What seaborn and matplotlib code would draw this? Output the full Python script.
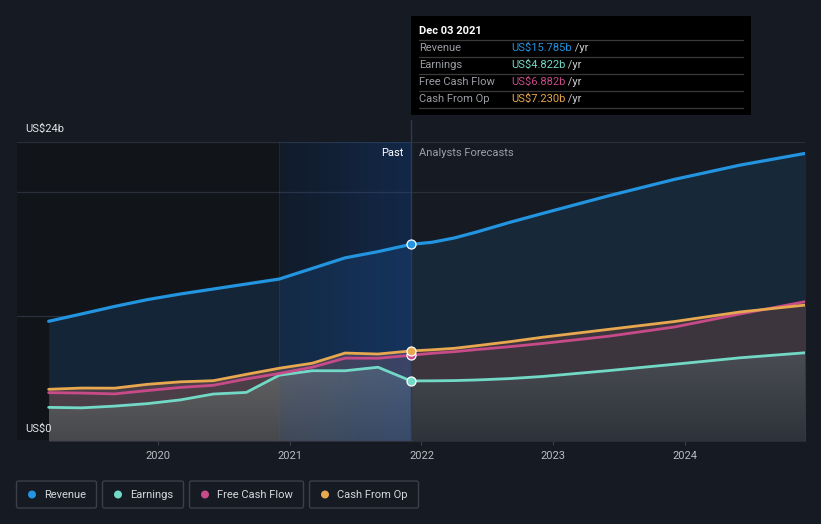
import numpy as np
import pandas as pd
import matplotlib
matplotlib.use("Agg")
import matplotlib.pyplot as plt
import seaborn as sns
from matplotlib.patches import FancyBboxPatch, Rectangle, Circle, PathPatch
from matplotlib.lines import Line2D
from matplotlib.transforms import IdentityTransform
from matplotlib.colors import to_rgb

# ---------------- data ----------------
years_past = [2019.17, 2019.42, 2019.67, 2019.92, 2020.17, 2020.42,
              2020.67, 2020.92, 2021.17, 2021.42, 2021.67, 2021.92]
years_fc = [2021.92, 2022.08, 2022.25, 2022.42, 2022.67, 2022.92,
            2023.42, 2023.92, 2024.42, 2024.92]

revenue_past = [9.61, 10.2, 10.8, 11.35, 11.8, 12.2, 12.6, 13.0, 13.85, 14.7, 15.2, 15.785]
earnings_past = [2.70, 2.66, 2.80, 3.0, 3.3, 3.77, 3.9, 5.28, 5.64, 5.64, 5.92, 4.822]
fcf_past = [3.88, 3.85, 3.78, 4.05, 4.3, 4.47, 4.98, 5.42, 5.92, 6.65, 6.64, 6.882]
cfo_past = [4.15, 4.25, 4.24, 4.55, 4.75, 4.84, 5.35, 5.84, 6.24, 7.06, 6.98, 7.23]

revenue_fc = [15.785, 15.95, 16.3, 16.78, 17.55, 18.27, 19.68, 21.0, 22.15, 23.1]
earnings_fc = [4.822, 4.83, 4.85, 4.9, 5.01, 5.18, 5.65, 6.16, 6.68, 7.09]
fcf_fc = [6.882, 7.04, 7.17, 7.34, 7.57, 7.83, 8.41, 9.15, 10.2, 11.2]
cfo_fc = [7.23, 7.32, 7.44, 7.65, 7.97, 8.33, 8.96, 9.59, 10.36, 10.92]

series_names = ["Revenue", "Earnings", "Free Cash Flow", "Cash From Op"]
tooltip_values = ["US$15.785b", "US$4.822b", "US$6.882b", "US$7.230b"]
tick_years = [2020, 2021, 2022, 2023, 2024]
y_labels = ["US$0", "US$24b"]
present = 2021.92
highlight_start = 2020.92

# ---------------- style ----------------
W, H = 821, 524
bg = "#151a23"
past_bg = "#111419"
colors = {"Revenue": "#2394df", "Earnings": "#72d9c6",
          "Free Cash Flow": "#c74b88", "Cash From Op": "#e8a84f"}

sns.set_theme(style="dark")
plt.rcParams["font.family"] = ["Roboto", "DejaVu Sans"]

fig = plt.figure(figsize=(W / 100, H / 100), dpi=100, facecolor=bg)


def px2x(px):
    return 2020 + (px - 158) / 131.75


ax = fig.add_axes([17 / W, 83 / H, 788 / W, 299 / H])
ax.set_facecolor(bg)
for s in ax.spines.values():
    s.set_visible(False)

x0, x1 = px2x(17), px2x(805)

years_all = years_past + years_fc[1:]
vals = {
    "Revenue": revenue_past + revenue_fc[1:],
    "Earnings": earnings_past + earnings_fc[1:],
    "Free Cash Flow": fcf_past + fcf_fc[1:],
    "Cash From Op": cfo_past + cfo_fc[1:],
}

# past background
ax.axvspan(x0, present, color=past_bg, zorder=0, lw=0)

# gridlines
for yv in [10, 20, 24]:
    ax.axhline(yv, color="#2a303a", lw=0.9, zorder=1)
ax.axhline(0, color="#3a404a", lw=0.9, zorder=6)


def gradient_fill(x, y, top, bot, ymax, z):
    poly = ax.fill_between(x, 0, y, color="none", lw=0)
    path = poly.get_paths()[0]
    poly.remove()
    t = np.linspace(0, 1, 256)[:, None]
    top, bot = np.array(to_rgb(top)), np.array(to_rgb(bot))
    img = (top[None, None, :] * (1 - t[:, :, None]) + bot[None, None, :] * t[:, :, None])
    im = ax.imshow(img, extent=[x[0], x[-1], 0, ymax], origin="upper",
                   aspect="auto", zorder=z, interpolation="bilinear")
    patch = PathPatch(path, transform=ax.transData, facecolor="none", edgecolor="none")
    ax.add_patch(patch)
    im.set_clip_path(patch)


# fills: past
ax.fill_between(years_past, 0, revenue_past, color="#142538", lw=0, zorder=2)
ax.fill_between(years_past, 0, cfo_past, color="#4b3e47", lw=0, zorder=3)
gradient_fill(years_past, earnings_past, "#626264", "#47484c", max(earnings_past), 4)
# fills: forecast
ax.fill_between(years_fc, 0, revenue_fc, color="#172839", lw=0, zorder=2)
ax.fill_between(years_fc, 0, cfo_fc, color="#3d353d", lw=0, zorder=3)
gradient_fill(years_fc, earnings_fc, "#4a4d53", "#2e323a", max(earnings_fc), 4)

# highlight overlay (last year of the past)
n = 256
ov = np.zeros((1, n, 4))
ov[..., 0], ov[..., 1], ov[..., 2] = 0.09, 0.32, 0.66
ov[..., 3] = np.linspace(0.12, 0.33, n)[None, :]
ax.imshow(ov, extent=[highlight_start, present, 0, 24], aspect="auto",
          zorder=5, interpolation="bilinear")
ax.axvline(highlight_start, ymax=1, color="#3a6aa8", alpha=0.18, lw=0.8, zorder=5)

# present line
ax.plot([present, present], [0, 25.77], color="#2b3b52", lw=1, zorder=6, clip_on=False)

# lines
rows = []
for name in series_names:
    for xx, vv in zip(years_all, vals[name]):
        rows.append({"year": xx, "value": vv, "series": name})
df = pd.DataFrame(rows)
for name in series_names:
    lw = 2.3 if name == "Revenue" else 2.0
    sns.lineplot(data=df[df.series == name], x="year", y="value", color=colors[name],
                 lw=lw, ax=ax, legend=False, estimator=None, sort=True, zorder=7)

# markers at present
for name, v in zip(series_names, [revenue_past[-1], earnings_past[-1], fcf_past[-1], cfo_past[-1]]):
    ax.plot([present], [v], marker="o", ms=6.5, mfc=colors[name], mec="white",
            mew=0.9, zorder=9, clip_on=False)

ax.set_xlim(x0, x1)
ax.set_ylim(0, 24)
ax.set_xlabel("")
ax.set_ylabel("")
ax.set_yticks([])
ax.set_xticks(tick_years)
ax.set_xticklabels([str(t) for t in tick_years])
ax.tick_params(axis="x", bottom=True, length=3, width=0.8, color="#3a404a",
               labelcolor="#b9bcc2", labelsize=8, pad=4)
ax.grid(False)


def ftext(px, py, s, **kw):
    return fig.text(px / W, 1 - py / H, s, **kw)


ftext(25, 129, y_labels[1], color="#e2e4e8", fontsize=8, va="center", ha="left")
ftext(25, 429, y_labels[0], color="#e2e4e8", fontsize=8, va="center", ha="left")
ftext(403, 153, "Past", color="#ffffff", fontsize=8, va="center", ha="right")
ftext(419, 153, "Analysts Forecasts", color="#9aa0a8", fontsize=8, va="center", ha="left")

# tooltip
idt = IdentityTransform()
fig.add_artist(Rectangle((411, H - 115), 340, 99, transform=idt, facecolor="#000000",
                         edgecolor="none", zorder=10))
ftext(419, 31, "Dec 03 2021", color="#ffffff", fontsize=8, fontweight="bold",
      va="center", ha="left", zorder=11)
for yy in [40, 57, 74, 91, 108]:
    fig.add_artist(Line2D([419, 743], [H - yy, H - yy], transform=idt,
                          color="#3a3a3a", lw=0.9, zorder=11))
for i, (name, val) in enumerate(zip(series_names, tooltip_values)):
    yy = 48 + 17 * i
    ftext(419, yy, name, color="#9a9da3", fontsize=8, va="center", ha="left", zorder=11)
    t = ftext(511, yy, val, color=colors[name], fontsize=8, va="center", ha="left", zorder=11)
    fig.canvas.draw()
    bb = t.get_window_extent()
    fig.text(bb.x1 / W, 1 - yy / H, " /yr", color="#c8cacf", fontsize=8,
             va="center", ha="left", zorder=11)

# legend buttons
boxes = [(16, 97), (102, 184), (189, 304), (309, 419)]
for (bx0, bx1), name in zip(boxes, series_names):
    fig.add_artist(FancyBboxPatch((bx0 + 0.5, H - 508), bx1 - bx0 - 1, 27,
                                  boxstyle="round,pad=0,rounding_size=2",
                                  transform=idt, facecolor="none",
                                  edgecolor="#3a404b", lw=1))
    fig.add_artist(Circle((bx0 + 16, H - 494.5), 4, transform=idt,
                          facecolor=colors[name], edgecolor="none"))
    ftext(bx0 + 28, 494.5, name, color="#d6d8dc", fontsize=8, va="center", ha="left")

fig.savefig("out.png", dpi=100, facecolor=bg)
